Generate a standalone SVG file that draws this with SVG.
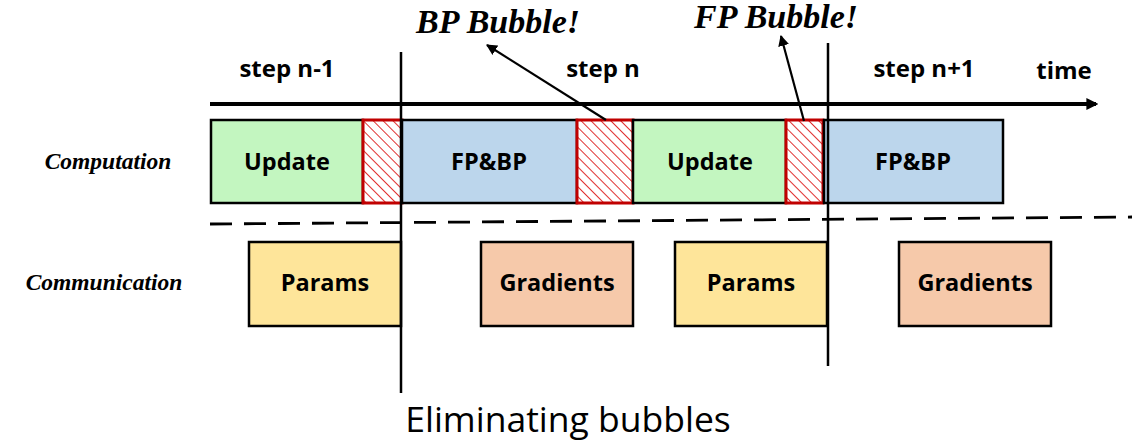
<svg xmlns="http://www.w3.org/2000/svg" width="1137" height="445" viewBox="0 0 1137 445">
  <defs>
    <pattern id="hatch" patternUnits="userSpaceOnUse" width="7" height="7" patternTransform="rotate(45)">
      <rect width="7" height="7" fill="#ffffff"/>
      <line x1="0" y1="3.5" x2="7" y2="3.5" stroke="#e03030" stroke-width="1"/>
    </pattern>
    <marker id="arrow" viewBox="0 0 10 10" refX="9" refY="5" markerWidth="5" markerHeight="5" orient="auto-start-reverse" markerUnits="strokeWidth">
      <path d="M0,0 L10,5 L0,10 Z" fill="#000"/>
    </marker>
    <marker id="axisArrow" viewBox="0 0 10 10" refX="8" refY="5" markerWidth="3" markerHeight="3" orient="auto" markerUnits="strokeWidth">
      <path d="M0,0 L10,5 L0,10 Z" fill="#000"/>
    </marker>
  </defs>
  <style>
    .box { stroke: #000; stroke-width: 2.5; }
    .upd { fill: #c3f6c0; }
    .fpbp { fill: #bcd6ec; }
    .par { fill: #fee59a; }
    .grad { fill: #f6c9aa; }
    .bub { fill: url(#hatch); stroke: #c00000; stroke-width: 3; }
    .lbl { font-family: "Open Sans", "Noto Sans", sans-serif; font-weight: bold; font-size: 23.5px; fill: #000; text-anchor: middle; }
    .step { font-family: "Open Sans", "Noto Sans", sans-serif; font-weight: bold; font-size: 24px; fill: #000; text-anchor: middle; }
    .row { font-family: "Liberation Serif", serif; font-style: italic; font-weight: bold; font-size: 23.5px; fill: #000; text-anchor: middle; }
    .note { font-family: "Liberation Serif", serif; font-style: italic; font-weight: bold; font-size: 34px; fill: #000; text-anchor: middle; }
    .cap { font-family: "Open Sans", "Noto Sans", sans-serif; font-size: 35.5px; fill: #000; text-anchor: middle; }
    .conn { stroke: #000; fill: none; }
  </style>

  <!-- time axis and step labels -->
  <g id="timeline">
    <line class="conn" x1="210" y1="104" x2="1096" y2="104" stroke-width="4" marker-end="url(#axisArrow)"/>
    <text class="step" x="1064" y="79" font-size="26">time</text>
    <text class="step" x="287" y="77">step n-1</text>
    <text class="step" x="603" y="77">step n</text>
    <text class="step" x="924" y="77">step n+1</text>
  </g>

  <!-- row labels -->
  <text class="row" x="108" y="169">Computation</text>
  <text class="row" x="104" y="290">Communication</text>

  <!-- computation row -->
  <g id="update1"><rect class="box upd" x="211" y="120" width="152" height="83"/><text class="lbl" x="287" y="170">Update</text></g>
  <g id="bubble1"><rect class="bub" x="363" y="120" width="39" height="83"/></g>
  <g id="fpbp1"><rect class="box fpbp" x="402" y="120" width="175" height="83"/><text class="lbl" x="489" y="170">FP&amp;BP</text></g>
  <g id="bubble2"><rect class="bub" x="577" y="120" width="56" height="83"/></g>
  <g id="update2"><rect class="box upd" x="633" y="120" width="153" height="83"/><text class="lbl" x="710" y="170">Update</text></g>
  <g id="bubble3"><rect class="bub" x="786" y="120" width="37" height="83"/></g>
  <g id="fpbp2"><rect class="box fpbp" x="824" y="120" width="179" height="83"/><text class="lbl" x="913" y="170">FP&amp;BP</text></g>

  <!-- communication row -->
  <g id="params1"><rect class="box par" x="249" y="242" width="152" height="84"/><text class="lbl" x="325" y="291">Params</text></g>
  <g id="grad1"><rect class="box grad" x="481" y="242" width="152" height="84"/><text class="lbl" x="557" y="291">Gradients</text></g>
  <g id="params2"><rect class="box par" x="675" y="242" width="152" height="84"/><text class="lbl" x="751" y="291">Params</text></g>
  <g id="grad2"><rect class="box grad" x="899" y="242" width="152" height="84"/><text class="lbl" x="975" y="291">Gradients</text></g>

  <!-- bubble callouts -->
  <g id="bp-note"><text class="note" x="498" y="33">BP Bubble!</text></g>
  <g id="fp-note"><text class="note" x="776" y="28">FP Bubble!</text></g>

  <!-- connectors: step boundaries, row divider, callout arrows -->
  <g id="connectors">
    <line class="conn" x1="401" y1="52" x2="401" y2="393" stroke-width="2.5"/>
    <line class="conn" x1="828" y1="43" x2="828" y2="366" stroke-width="2.5"/>
    <line class="conn" x1="210" y1="224" x2="1132" y2="217" stroke-width="2.8" stroke-dasharray="22,12"/>
    <line class="conn" x1="606" y1="120" x2="487" y2="45" stroke-width="2.2" marker-end="url(#arrow)"/>
    <line class="conn" x1="804" y1="121" x2="781" y2="36" stroke-width="2.2" marker-end="url(#arrow)"/>
  </g>

  <text class="cap" x="568" y="432">Eliminating bubbles</text>
</svg>
